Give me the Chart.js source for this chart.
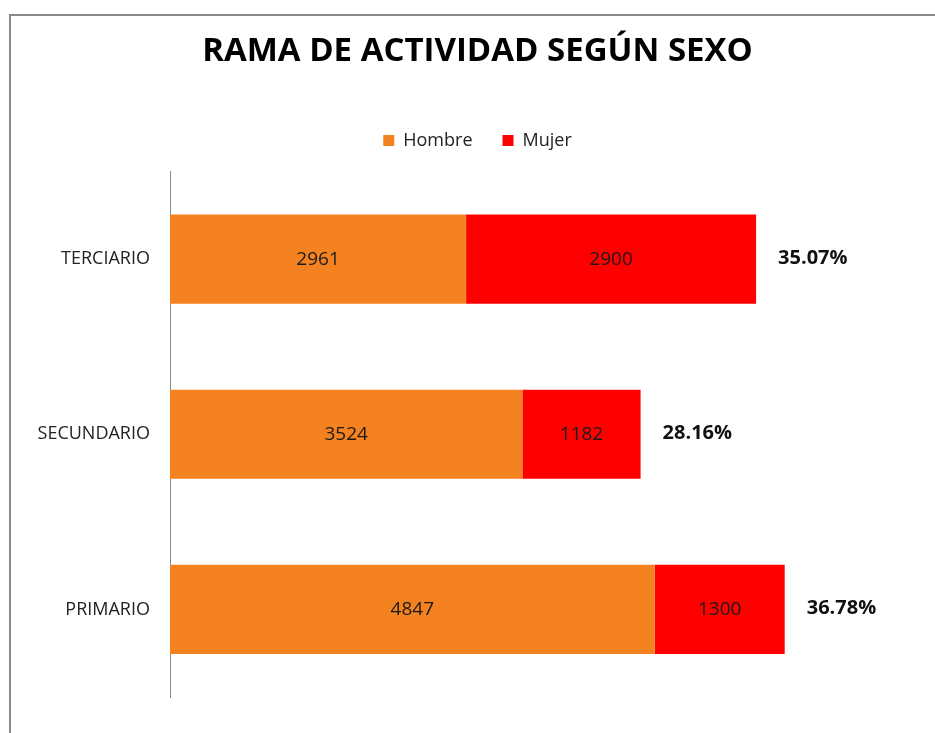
<!DOCTYPE html>
<html>
<head>
<meta charset="utf-8">
<script src="https://cdn.jsdelivr.net/npm/chart.js@4"></script>
<style>
  html, body { margin: 0; padding: 0; background: #fff; }
  #wrap { width: 935px; height: 733px; }
</style>
</head>
<body>
<div id="wrap"><canvas id="graph1" width="935" height="733"></canvas></div>
<script>
// datos del grafico
const ramas = ["TERCIARIO", "SECUNDARIO", "PRIMARIO"];
const hombre = [2961, 3524, 4847];
const mujer = [2900, 1182, 1300];
const porcentajes = ["35.07%", "28.16%", "36.78%"];

const fuente = "'Open Sans', 'Noto Sans', sans-serif";

// marco gris arriba y a la izquierda
const marco = {
  id: "marco",
  beforeDraw(chart) {
    const c = chart.ctx;
    c.save();
    c.fillStyle = "#fff";
    c.fillRect(0, 0, chart.width, chart.height);
    c.strokeStyle = "#8a8a8a";
    c.lineWidth = 2;
    c.beginPath();
    c.moveTo(10, chart.height);
    c.lineTo(10, 15);
    c.lineTo(chart.width, 15);
    c.stroke();
    c.restore();
  }
};

// un poco mas de espacio debajo de la leyenda
const margenLeyenda = {
  id: "margenLeyenda",
  beforeInit(chart) {
    const fitOriginal = chart.legend.fit;
    chart.legend.fit = function fit() {
      fitOriginal.bind(chart.legend)();
      this.height += 12;
    };
  }
};

// numeros dentro de las barras y porcentaje al final
const etiquetas = {
  id: "etiquetas",
  afterDatasetsDraw(chart) {
    const c = chart.ctx;
    c.save();
    c.textBaseline = "middle";
    c.fillStyle = "#1a1a1a";
    c.font = "19px " + fuente;
    c.textAlign = "center";
    chart.data.datasets.forEach((ds, i) => {
      chart.getDatasetMeta(i).data.forEach((bar, j) => {
        c.fillText(ds.data[j], (bar.x + bar.base) / 2, bar.y);
      });
    });
    const ultimo = chart.getDatasetMeta(chart.data.datasets.length - 1).data;
    c.font = "bold 20px " + fuente;
    c.textAlign = "left";
    c.fillStyle = "#111";
    ultimo.forEach((bar, j) => {
      c.fillText(porcentajes[j], bar.x + 22, bar.y - 1);
    });
    c.restore();
  }
};

new Chart(document.getElementById("graph1"), {
  type: "bar",
  data: {
    labels: ramas,
    datasets: [
      { label: "Hombre", data: hombre, backgroundColor: "#f58220", borderWidth: 0 },
      { label: "Mujer", data: mujer, backgroundColor: "#ff0000", borderWidth: 0 }
    ]
  },
  options: {
    indexAxis: "y",
    responsive: false,
    animation: false,
    barPercentage: 0.509,
    categoryPercentage: 1,
    layout: { padding: { left: 20, right: 0, top: 0, bottom: 36 } },
    plugins: {
      title: {
        display: true,
        text: "RAMA DE ACTIVIDAD SEGÚN SEXO",
        color: "#000",
        font: { family: fuente, size: 33, weight: "bold" },
        padding: { top: 32, bottom: 30 }
      },
      legend: {
        display: true,
        labels: {
          color: "#222",
          font: { family: fuente, size: 18 },
          boxWidth: 11,
          boxHeight: 11,
          padding: 30
        }
      },
      tooltip: { enabled: false }
    },
    scales: {
      x: { stacked: true, display: false, min: 0, max: 7650 },
      y: {
        stacked: true,
        grid: { display: false, drawTicks: false },
        border: { display: true, color: "#8a8a8a", width: 1 },
        ticks: { color: "#222", font: { family: fuente, size: 18 }, padding: 20 },
        afterFit(s) { s.width = 150; }
      }
    }
  },
  plugins: [marco, margenLeyenda, etiquetas]
});
</script>
</body>
</html>
